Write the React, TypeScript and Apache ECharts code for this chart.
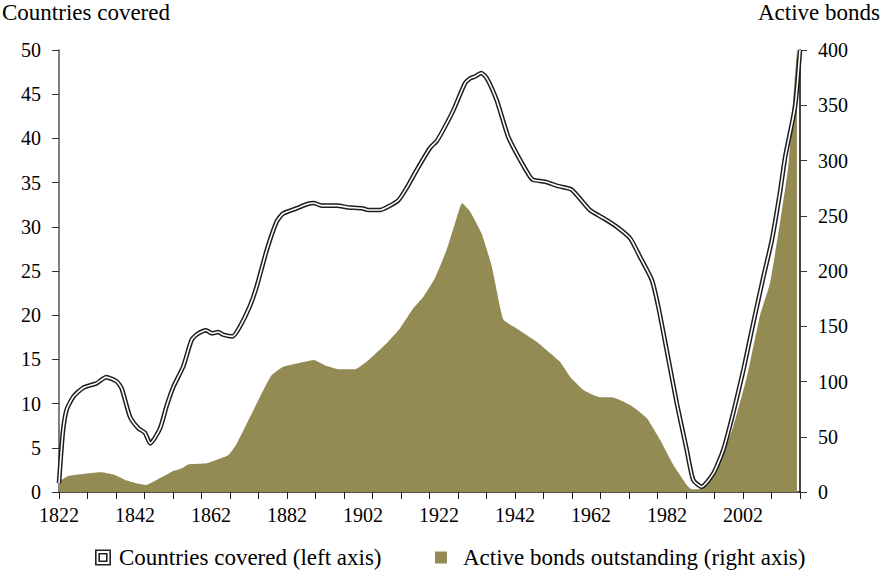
import React, { useEffect, useRef } from "react";
import * as echarts from "echarts";

// Countries covered (left axis) — [year, countries]
const countriesCovered: [number, number][] = [
  [1822, 1.0], [1823, 6.7], [1824, 9.3], [1825.8, 10.8], [1828.4, 11.8], [1831.9, 12.3],
  [1833.2, 12.7], [1834.4, 13.0], [1837.2, 12.5], [1838.5, 11.7], [1840.7, 8.5], [1842.9, 7.2],
  [1844.6, 6.7], [1846.0, 5.5], [1848.6, 7.2], [1850.3, 9.7], [1852.1, 11.9], [1854.7, 14.2],
  [1856.9, 17.2], [1858.7, 17.95], [1860.7, 18.3], [1862.2, 17.95], [1863.9, 18.1], [1865.2, 17.8],
  [1867.7, 17.6], [1869.6, 18.7], [1872.2, 21.0], [1874.0, 23.2], [1876.7, 27.4], [1879.3, 30.6],
  [1881.0, 31.5], [1884.6, 32.1], [1887.6, 32.6], [1889.0, 32.7], [1891.1, 32.4], [1895.1, 32.4],
  [1898.1, 32.2], [1901.7, 32.1], [1903.4, 31.9], [1906.5, 31.9], [1908.7, 32.3], [1911.3, 33.0],
  [1913.5, 34.4], [1916.1, 36.4], [1919.6, 38.9], [1921.4, 39.7], [1923.1, 40.95], [1925.8, 43.2],
  [1928.8, 46.2], [1930.2, 46.8], [1931.5, 47.0], [1933.1, 47.4], [1934.6, 46.8], [1937.2, 44.3],
  [1940.2, 40.2], [1942.9, 37.9], [1945.9, 35.7], [1946.8, 35.3], [1949.9, 35.1], [1953.4, 34.6],
  [1956.9, 34.2], [1961.7, 31.9], [1965.2, 31.0], [1968.8, 30.0], [1972.3, 28.7], [1974.9, 26.6],
  [1978.0, 24.0], [1979.7, 21.0], [1981.9, 16.1], [1984.6, 10.0], [1987.2, 4.75], [1988.9, 1.36],
  [1991.1, 0.6], [1994.2, 2.1], [1996.8, 4.75], [1999.4, 8.9], [2002.1, 13.8], [2004.7, 19.1],
  [2007.4, 24.4], [2009.6, 28.5], [2011.7, 33.8], [2013.1, 37.9], [2015.7, 43.6], [2017, 50],
];

// Active bonds outstanding (right axis) — [year, bonds]
const activeBonds: [number, number][] = [
  [1822, 9.3], [1824.4, 14.5], [1828.4, 16.3], [1832.8, 17.8], [1834.1, 17.5], [1836.7, 15.4],
  [1839.8, 10.3], [1842.4, 7.9], [1844.9, 6.3], [1846.8, 9.3], [1851.7, 18.4], [1854.3, 21.4],
  [1856.0, 25.0], [1860.9, 26.0], [1863.9, 29.6], [1866.6, 33.5], [1868.8, 44], [1872.3, 68],
  [1875.8, 92.3], [1878.0, 105.9], [1881.0, 113.4], [1884.6, 116.4], [1887.6, 118.6], [1889.0, 119.5],
  [1892.4, 114], [1895.9, 111], [1899.9, 111], [1903.0, 118], [1908.2, 134.6], [1911.7, 148],
  [1915.2, 166], [1917.9, 176.7], [1920.9, 193.4], [1924.0, 219], [1926.2, 243], [1928.1, 261.3],
  [1930.2, 253.7], [1933.2, 234], [1935.9, 204], [1938.9, 156.3], [1942.4, 148], [1947.7, 136],
  [1950.8, 127], [1953.8, 118], [1956.5, 104.3], [1960.0, 92.3], [1964.4, 85.7], [1967.4, 85.7],
  [1972.3, 78.7], [1976.7, 66.7], [1980.2, 47], [1983.7, 24.4], [1987.2, 6.3], [1988.5, 2.4],
  [1990.2, 2.4], [1992.4, 9.3], [1995.9, 26], [1999.4, 59], [2003.0, 104], [2006.5, 160],
  [2009.1, 189], [2011.7, 243], [2013.9, 294], [2014.6, 325], [2016.2, 400],
];

const yearLabels = [1822, 1842, 1862, 1882, 1902, 1922, 1942, 1962, 1982, 2002];
const yearTicks = [
  1822, 1829.5, 1837, 1844.5, 1852, 1859.5, 1867, 1874.5, 1882, 1889.5, 1897, 1904.5, 1912,
  1919.5, 1927, 1934.5, 1942, 1949.5, 1957, 1964.5, 1972, 1979.5, 1987, 1994.5, 2002, 2009.5, 2017,
];

const leftTitle = "Countries covered";
const rightTitle = "Active bonds";
const lineName = "Countries covered (left axis)";
const areaName = "Active bonds outstanding (right axis)";

const FONT = "'Liberation Serif', 'Times New Roman', serif";
const OLIVE = "#948A54";

export default function App() {
  const ref = useRef<HTMLDivElement>(null);

  useEffect(() => {
    if (!ref.current) return;
    const chart = echarts.init(ref.current, null, { renderer: "svg" });
    const doubleSquare =
      "path://M0 0H16V16H0Z M1.6 1.6V14.4H14.4V1.6Z M3.4 3.4H12.6V12.6H3.4Z M5 5V11H11V5Z";
    chart.setOption({
      animation: false,
      grid: { left: 59, right: 84, top: 50, bottom: 82, containLabel: false },
      graphic: [
        {
          type: "text",
          left: 2,
          top: 1,
          style: { text: leftTitle, font: `23px ${FONT}`, fill: "#000" },
        },
        {
          type: "text",
          right: 4,
          top: 1,
          style: { text: rightTitle, font: `23px ${FONT}`, fill: "#000" },
        },
      ],
      legend: [
        {
          left: 90,
          top: 541,
          itemWidth: 16,
          itemHeight: 16,
          data: [
            {
              name: lineName,
              icon: doubleSquare,
              itemStyle: { color: "#222", borderWidth: 0 },
            },
          ],
          textStyle: { fontFamily: FONT, fontSize: 23, color: "#000", padding: [0, 0, 0, 3] },
          selectedMode: false,
        },
        {
          left: 430,
          top: 541,
          itemWidth: 12,
          itemHeight: 12,
          data: [
            {
              name: areaName,
              icon: "rect",
              itemStyle: { color: OLIVE, borderWidth: 0 },
            },
          ],
          textStyle: { fontFamily: FONT, fontSize: 23, color: "#000", padding: [0, 0, 0, 11] },
          selectedMode: false,
        },
      ],
      xAxis: {
        type: "value",
        min: 1822,
        max: 2017,
        axisLine: { show: true, onZero: false, lineStyle: { color: "#1a1a1a", width: 1.5 } },
        axisTick: {
          show: true,
          length: 7,
          customValues: yearTicks,
          lineStyle: { color: "#1a1a1a", width: 1 },
        },
        axisLabel: {
          customValues: yearLabels,
          fontFamily: FONT,
          fontSize: 20,
          color: "#000",
          margin: 13,
          showMinLabel: true,
          showMaxLabel: true,
          formatter: (v: number) => String(v),
        },
        splitLine: { show: false },
      },
      yAxis: [
        {
          type: "value",
          min: 0,
          max: 50,
          interval: 5,
          position: "left",
          axisLine: { show: true, lineStyle: { color: "#555", width: 1.5 } },
          axisTick: { show: true, length: 7, lineStyle: { color: "#333" } },
          axisLabel: { fontFamily: FONT, fontSize: 20, color: "#000", margin: 18 },
          splitLine: { show: false },
        },
        {
          type: "value",
          min: 0,
          max: 400,
          interval: 50,
          position: "right",
          axisLine: { show: true, lineStyle: { color: "#444", width: 2 } },
          axisTick: { show: true, length: 7, lineStyle: { color: "#333" } },
          axisLabel: { fontFamily: FONT, fontSize: 20, color: "#000", margin: 18 },
          splitLine: { show: false },
        },
      ],
      series: [
        {
          name: areaName,
          type: "line",
          yAxisIndex: 1,
          data: activeBonds,
          showSymbol: false,
          symbol: "none",
          smooth: 0.15,
          lineStyle: { width: 0, color: OLIVE },
          itemStyle: { color: OLIVE },
          areaStyle: { color: OLIVE, opacity: 1 },
          z: 1,
        },
        {
          name: lineName,
          type: "line",
          yAxisIndex: 0,
          data: countriesCovered,
          showSymbol: false,
          symbol: "none",
          smooth: 0.2,
          lineStyle: { width: 4.6, color: "#1e1e1e" },
          itemStyle: { color: "#222" },
          z: 3,
        },
        {
          name: "countries-inner",
          type: "line",
          yAxisIndex: 0,
          data: countriesCovered,
          showSymbol: false,
          symbol: "none",
          smooth: 0.2,
          lineStyle: { width: 1.6, color: "#ffffff" },
          itemStyle: { color: "#fff" },
          z: 4,
        },
      ],
    });
    return () => chart.dispose();
  }, []);

  return (
    <div
      ref={ref}
      style={{ position: "fixed", left: 0, top: 0, width: 884, height: 574, background: "#fff" }}
    />
  );
}
